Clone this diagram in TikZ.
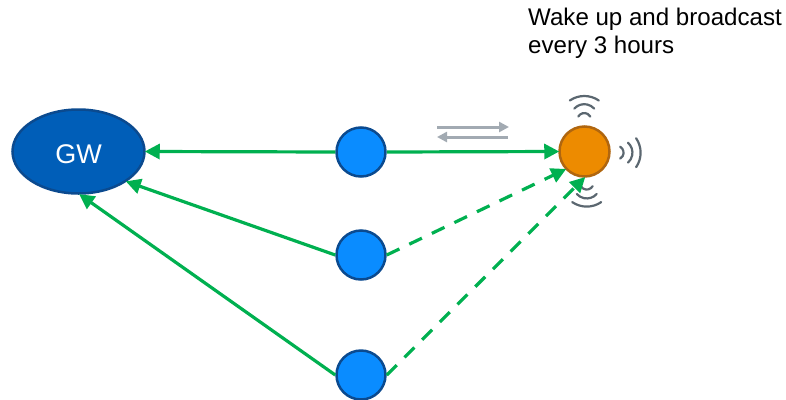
\documentclass[tikz,border=0pt]{standalone}
\usepackage{fontspec}
\setmainfont{Liberation Sans}
\usetikzlibrary{arrows.meta,shapes.geometric}
\definecolor{gwfill}{HTML}{005EB8}
\definecolor{nodefill}{HTML}{0A8CFF}
\definecolor{nodeedge}{HTML}{0B4A8F}
\definecolor{orangefill}{HTML}{ED8B00}
\definecolor{orangeedge}{HTML}{B0660F}
\definecolor{linkgreen}{HTML}{00B050}
\definecolor{greyarrow}{HTML}{A2AAB2}
\definecolor{wavegrey}{HTML}{5B6770}
\tikzset{
  x=1pt,y=-1pt,
  gwnode/.style={ellipse,draw=nodeedge,fill=gwfill,line width=2.5pt,minimum width=132pt,minimum height=84pt,inner sep=0pt,text=white,font=\fontsize{27}{30}\selectfont},
  relay/.style={circle,draw=nodeedge,fill=nodefill,line width=2.5pt,minimum size=49pt,inner sep=0pt},
  sensor/.style={circle,draw=orangeedge,fill=orangefill,line width=2.5pt,minimum size=50pt,inner sep=0pt},
  link/.style={draw=linkgreen,line width=3.2pt,-{Triangle[length=15pt,width=15pt]},shorten >=-1pt},
  dashlink/.style={link,dash pattern=on 14pt off 11pt},
  flow/.style={draw=greyarrow,line width=3pt,-{Triangle[length=10pt,width=10pt]}},
  wave/.style={draw=wavegrey,line width=2.2pt,line cap=round},
  note/.style={align=left,anchor=north west,inner sep=0pt,font=\fontsize{24.1}{27.5}\selectfont}
}
\newcommand{\wifimark}[3]{%
  \begin{scope}[shift={(#1,#2)},rotate=#3]
    \draw[wave] (17.8,-14.5) arc[start angle=-34.5,end angle=34.5,radius=25.6];
    \draw[wave] (9.7,-10) arc[start angle=-48,end angle=48,radius=13.4];
    \draw[wave] (1.8,-6) arc[start angle=-60,end angle=60,radius=6.9];
  \end{scope}}
\begin{document}
\begin{tikzpicture}
\useasboundingbox (0,0) rectangle (786,399);
\node[gwnode] (gw) at (78.5,151.5) {\raisebox{-11.8pt}[0pt][0pt]{GW}};
\node[relay] (r1) at (361,152) {};
\node[relay] (r2) at (361,255) {};
\node[relay] (r3) at (361,375) {};
\node[sensor] (s) at (584.5,151.5) {};
\node[note] (txt) at (528,8) {Wake up and broadcast\\every 3 hours};
\coordinate (fa) at (437,127);
\coordinate (fb) at (509,127);
\coordinate (fc) at (508,137);
\coordinate (fd) at (437,137);
\draw[flow] (fa) -- (fb);
\draw[flow] (fc) -- (fd);
\wifimark{584.3}{118.3}{90}
\wifimark{618.3}{152.7}{0}
\wifimark{586.7}{184.3}{-90}
\draw[link] (r1.west) -- (gw.east);
\draw[link] (r2.west) -- (gw.-32);
\draw[link] (r3.west) -- (gw.-88);
\draw[link] (r1.east) -- (s.west);
\draw[dashlink] (r2.east) -- (s.223);
\draw[dashlink] (r3.east) -- (s.270);
\end{tikzpicture}
\end{document}
